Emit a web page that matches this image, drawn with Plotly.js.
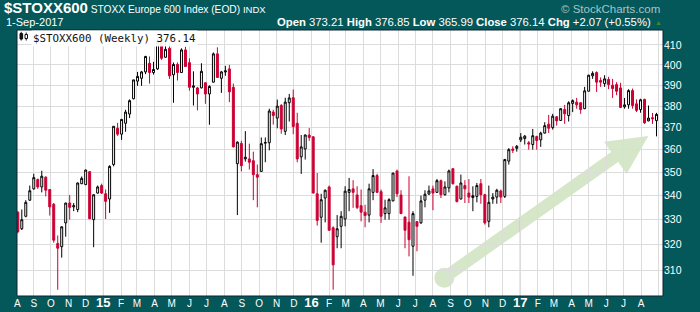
<!DOCTYPE html>
<html><head><meta charset="utf-8">
<script src="https://cdn.plot.ly/plotly-3.0.1.min.js"></script>
<style>html,body{margin:0;padding:0;background:#04585a;}#chart{width:700px;height:312px;}</style>
</head><body><div id="chart"></div>
<script>
const symbol = '$STOXX600';
const seriesName = 'STOXX Europe 600 Index (EOD)';
const lastDateLabel = '1-Sep-2017';

const weekDates = [
'2014-08-04','2014-08-11','2014-08-18','2014-08-25','2014-09-01','2014-09-08','2014-09-15','2014-09-22','2014-09-29','2014-10-06','2014-10-13','2014-10-20','2014-10-27','2014-11-03','2014-11-10','2014-11-17','2014-11-24','2014-12-01','2014-12-08','2014-12-15','2014-12-22','2014-12-29',
'2015-01-05','2015-01-12','2015-01-19','2015-01-26','2015-02-02','2015-02-09','2015-02-16','2015-02-23','2015-03-02','2015-03-09','2015-03-16','2015-03-23','2015-03-30','2015-04-06','2015-04-13','2015-04-20','2015-04-27','2015-05-04','2015-05-11','2015-05-18','2015-05-25','2015-06-01','2015-06-08','2015-06-15','2015-06-22','2015-06-29','2015-07-06','2015-07-13','2015-07-20','2015-07-27','2015-08-03','2015-08-10','2015-08-17','2015-08-24','2015-08-31','2015-09-07','2015-09-14','2015-09-21','2015-09-28','2015-10-05','2015-10-12','2015-10-19','2015-10-26','2015-11-02','2015-11-09','2015-11-16','2015-11-23','2015-11-30','2015-12-07','2015-12-14','2015-12-21','2015-12-28',
'2016-01-04','2016-01-11','2016-01-18','2016-01-25','2016-02-01','2016-02-08','2016-02-15','2016-02-22','2016-02-29','2016-03-07','2016-03-14','2016-03-21','2016-03-28','2016-04-04','2016-04-11','2016-04-18','2016-04-25','2016-05-02','2016-05-09','2016-05-16','2016-05-23','2016-05-30','2016-06-06','2016-06-13','2016-06-20','2016-06-27','2016-07-04','2016-07-11','2016-07-18','2016-07-25','2016-08-01','2016-08-08','2016-08-15','2016-08-22','2016-08-29','2016-09-05','2016-09-12','2016-09-19','2016-09-26','2016-10-03','2016-10-10','2016-10-17','2016-10-24','2016-10-31','2016-11-07','2016-11-14','2016-11-21','2016-11-28','2016-12-05','2016-12-12','2016-12-19','2016-12-26',
'2017-01-02','2017-01-09','2017-01-16','2017-01-23','2017-01-30','2017-02-06','2017-02-13','2017-02-20','2017-02-27','2017-03-06','2017-03-13','2017-03-20','2017-03-27','2017-04-03','2017-04-10','2017-04-17','2017-04-24','2017-05-01','2017-05-08','2017-05-15','2017-05-22','2017-05-29','2017-06-05','2017-06-12','2017-06-19','2017-06-26','2017-07-03','2017-07-10','2017-07-17','2017-07-24','2017-07-31','2017-08-07','2017-08-14','2017-08-21','2017-08-28'];

const openVals = [
333.1,326.3,331.4,338.1,342.9,346.9,343.7,347.9,342.6,336.4,
320.4,319.1,328.7,336.9,335.3,334.2,345.1,344.7,350.3,330.0,
341.1,344.3,340.8,338.6,353.4,369.7,367.0,372.0,376.3,383.5,
392.0,393.4,396.5,400.8,396.2,398.0,412.0,403.8,408.3,395.1,
400.2,396.2,407.5,401.1,389.0,388.7,388.7,391.2,385.8,391.5,
405.5,393.4,396.5,398.0,389.0,353.8,362.8,355.9,355.9,355.1,
349.0,350.4,362.9,363.1,377.2,374.4,380.3,368.3,381.6,384.0,
372.0,356.8,360.3,366.6,365.8,340.8,331.0,339.0,343.7,326.7,
323.1,327.3,330.3,341.4,342.9,340.3,335.8,333.1,331.9,341.4,
348.6,341.7,332.5,332.5,337.8,350.6,340.3,331.1,329.0,319.3,
329.2,328.7,338.1,340.7,342.9,341.4,346.4,340.4,343.3,351.6,
344.0,338.6,344.3,341.1,339.2,339.7,345.1,340.4,329.3,338.6,
339.4,342.0,339.7,354.9,360.3,360.6,364.4,365.0,363.1,362.3,
365.9,364.4,367.5,371.6,370.0,375.0,373.3,378.4,375.6,381.3,
381.9,381.6,378.8,387.1,394.6,396.2,392.3,390.8,392.8,390.0,
390.3,388.7,379.7,380.6,387.4,381.1,378.4,383.2,373.1,374.6,
373.21];

const highVals = [
333.5,334.2,338.1,344.3,349.4,347.3,350.7,348.3,342.8,336.9,
323.6,327.3,337.0,340.3,336.9,345.6,348.2,351.2,350.5,340.5,
344.3,345.1,342.6,353.1,370.6,372.2,374.0,378.3,383.2,392.6,
396.5,397.0,404.5,404.2,401.5,413.5,414.5,411.5,411.5,401.2,
401.2,408.3,409.2,403.3,396.8,389.2,400.8,391.3,390.0,406.2,
408.8,397.0,399.5,400.0,390.8,363.7,364.0,368.4,362.7,359.1,
353.4,365.5,365.5,378.8,378.3,383.1,381.0,384.0,385.8,387.9,
376.9,366.6,366.9,369.8,366.0,349.7,340.8,342.6,344.3,327.3,
331.9,333.5,344.0,347.6,346.6,344.0,342.6,336.2,345.1,351.4,
349.4,342.6,338.3,338.9,349.7,351.2,342.3,331.3,348.3,333.5,
329.3,340.0,342.3,344.3,344.3,347.1,346.9,346.1,351.2,351.7,
344.3,349.0,346.6,347.1,344.0,345.4,347.1,340.8,344.3,341.1,
342.9,342.6,355.9,360.7,361.5,362.1,367.5,366.6,363.9,369.4,
366.3,368.1,372.5,375.9,376.4,375.3,379.0,380.6,382.3,383.2,
383.9,381.7,389.2,395.1,396.8,396.8,393.8,394.9,394.1,393.1,
391.5,391.2,383.9,388.1,388.4,383.2,383.5,383.5,380.3,376.8,
376.85];

const lowVals = [
324.5,325.8,331.0,337.8,342.5,342.9,341.4,339.7,331.7,320.7,
302.5,314.8,323.1,330.0,333.5,333.1,344.9,344.5,330.2,318.9,
340.9,340.7,330.3,332.8,352.6,366.2,364.4,368.1,374.4,383.2,
389.7,389.7,395.4,390.8,395.2,397.5,402.5,403.5,393.1,381.6,
392.3,396.0,399.0,387.4,380.3,378.0,388.5,381.1,371.3,391.3,
393.6,386.3,394.6,381.9,361.0,331.9,350.4,354.7,351.2,338.1,
335.1,350.2,354.4,359.7,371.4,369.7,367.2,366.6,372.8,367.0,
354.4,349.3,355.6,364.0,341.0,327.6,320.7,328.9,325.5,302.5,
318.5,318.5,327.3,333.5,334.9,334.4,329.3,326.9,328.9,338.1,
341.1,328.7,330.0,330.0,337.6,339.4,332.3,318.5,315.3,307.8,
317.3,328.3,335.1,340.3,333.9,341.2,339.0,340.0,341.4,344.7,
337.2,338.4,336.9,336.9,333.5,337.2,336.6,328.0,326.9,336.6,
336.6,336.9,339.0,353.4,358.5,359.1,363.4,362.3,360.0,360.0,
360.0,361.25,367.3,367.5,369.1,370.9,373.1,371.7,372.8,377.2,
378.8,376.4,378.6,387.0,393.1,386.8,389.2,389.2,388.1,383.9,
385.2,379.1,378.8,378.8,378.8,377.2,376.9,371.7,372.9,371.7,
365.99];

const closeVals = [
325.1,330.0,337.2,342.1,347.7,343.7,348.3,342.3,335.3,321.7,
318.5,327.1,336.9,335.1,335.8,345.4,347.4,351.0,330.4,340.4,
343.7,341.1,337.6,352.6,370.6,367.0,373.8,377.2,382.6,392.6,
394.3,396.5,404.2,396.2,397.7,411.7,403.3,407.8,394.6,400.2,
396.2,407.5,399.2,389.0,389.7,385.8,396.8,385.8,389.4,405.5,
393.8,396.5,397.0,386.8,361.25,363.4,352.9,356.6,354.4,349.0,
347.9,362.7,363.2,377.7,375.6,380.0,369.4,381.9,383.9,370.5,
355.9,361.25,366.6,365.5,341.1,329.7,338.3,342.3,325.7,312.0,
326.3,331.4,341.9,342.6,341.4,335.0,333.1,331.7,342.9,348.6,
341.4,331.4,334.9,338.3,349.7,340.8,332.5,325.7,321.9,332.5,
327.3,337.8,340.6,342.0,341.1,346.4,340.4,343.7,350.6,345.1,
337.5,345.4,342.9,339.4,340.0,344.3,340.4,328.7,337.2,339.4,
342.3,339.4,355.6,360.0,359.7,361.5,365.6,366.1,362.5,366.3,
364.1,367.5,370.9,369.7,375.3,373.1,378.8,376.4,381.6,382.6,
380.6,378.4,387.3,394.9,395.8,391.5,391.5,393.1,390.3,388.4,
387.1,379.4,380.6,387.4,380.3,378.0,383.0,372.2,374.4,374.07,
376.14];

const monthTickDates = ['2014-08-03','2014-09-01','2014-10-01','2014-11-01','2014-12-01',
'2015-01-01','2015-02-01','2015-03-01','2015-04-01','2015-05-01','2015-06-01','2015-07-01','2015-08-01','2015-09-01','2015-10-01','2015-11-01','2015-12-01',
'2016-01-01','2016-02-01','2016-03-01','2016-04-01','2016-05-01','2016-06-01','2016-07-01','2016-08-01','2016-09-01','2016-10-01','2016-11-01','2016-12-01',
'2017-01-01','2017-02-01','2017-03-01','2017-04-01','2017-05-01','2017-06-01','2017-07-01','2017-08-01','2017-09-01'];
const monthTickLabels = ['A','S','O','N','D',
'15','F','M','A','M','J','J','A','S','O','N','D',
'16','F','M','A','M','J','J','A','S','O','N','D',
'17','F','M','A','M','J','J','A',''];
const yearLineDates = ['2015-01-01','2016-01-01','2017-01-01'];
const yTickValues = [310,320,330,340,350,360,370,380,390,400,410];

// ---- layout helpers (pixel -> paper) ----
const PL = 17, PR = 663, PT = 30, PB = 296;
const px = v => (v - PL) / (PR - PL);
const py = v => (PB - v) / (PB - PT);

const n = closeVals.length;
const lastO = openVals[n-1], lastH = highVals[n-1], lastL = lowVals[n-1], lastC = closeVals[n-1];
const chg = lastC - closeVals[n-2];
const chgPct = chg / closeVals[n-2] * 100;
const sgn = v => (v >= 0 ? '+' : '') + v.toFixed(2);

const ticktext = monthTickLabels.map(t => /^\d+$/.test(t) ? "<b><span style='font-size:13px'>" + t + "</span></b>" : t);

const SANS = "'Liberation Sans', Arial, sans-serif";
const ARROW = '#d5e7c8';

const trace = {
  type: 'candlestick',
  x: weekDates, open: openVals, high: highVals, low: lowVals, close: closeVals,
  increasing: {line: {color: '#000000', width: 1}, fillcolor: '#ffffff'},
  decreasing: {line: {color: '#cc0033', width: 1}, fillcolor: '#cc0033'},
  whiskerwidth: 0, showlegend: false, hoverinfo: 'x'
};

const shapes = [
  {type:'line', xref:'paper', yref:'paper', x0:px(444.3), y0:py(277.7), x1:px(616), y1:py(156), line:{color:ARROW, width:12}, layer:'below'},
  {type:'circle', xref:'paper', yref:'paper', x0:px(434.3), x1:px(454.3), y0:py(287.7), y1:py(267.7), fillcolor:ARROW, line:{width:0}, layer:'below'},
  {type:'path', xref:'paper', yref:'paper', path:'M'+px(604)+','+py(141.7)+' L'+px(648.3)+','+py(136)+' L'+px(626.7)+','+py(174)+' Z', fillcolor:ARROW, line:{width:0}, layer:'below'},
  {type:'rect', xref:'paper', yref:'paper', x0:0, x1:1, y0:0, y1:1, line:{color:'#0d2233', width:1}, fillcolor:'rgba(0,0,0,0)', layer:'above'},
  // legend icon
  {type:'line', xref:'paper', yref:'paper', x0:px(21.2), x1:px(21.2), y0:py(40.5), y1:py(31.8), line:{color:'#111', width:1}, layer:'above'},
  {type:'rect', xref:'paper', yref:'paper', x0:px(20), x1:px(22.6), y0:py(39), y1:py(33.5), fillcolor:'#111', line:{color:'#111', width:1}, layer:'above'},
  {type:'line', xref:'paper', yref:'paper', x0:px(26.2), x1:px(26.2), y0:py(40.5), y1:py(32.5), line:{color:'#111', width:1}, layer:'above'},
  {type:'rect', xref:'paper', yref:'paper', x0:px(25), x1:px(27.5), y0:py(38.5), y1:py(34.5), fillcolor:'#fff', line:{color:'#111', width:1}, layer:'above'}
];
yearLineDates.forEach(d => shapes.push({type:'line', xref:'x', yref:'paper', x0:d, x1:d, y0:0, y1:1, line:{color:'#b0b0b0', width:1}, layer:'between'}));

const annotations = [
  {xref:'paper', yref:'paper', x:px(31), y:1, xanchor:'left', yanchor:'top', showarrow:false,
   text: symbol + ' (Weekly) ' + lastC.toFixed(2), bgcolor:'rgba(255,255,255,0.92)', borderpad:1,
   font:{family:"'DejaVu Sans Mono', monospace", size:10.8, color:'#111'}},
  {xref:'paper', yref:'paper', x:px(4), y:py(21.5), xanchor:'left', yanchor:'middle', showarrow:false,
   text: lastDateLabel, font:{family:SANS, size:11, color:'#ffffff'}},
  {xref:'paper', yref:'paper', x:px(653), y:py(21.5), xanchor:'right', yanchor:'middle', showarrow:false,
   text: '<b>Open</b> ' + lastO.toFixed(2) + ' <b>High</b> ' + lastH.toFixed(2) + ' <b>Low</b> ' + lastL.toFixed(2) +
         ' <b>Close</b> ' + lastC.toFixed(2) + ' <b>Chg</b> ' + sgn(chg) + ' (' + sgn(chgPct) + '%)',
   font:{family:SANS, size:11.3, color:'#ffffff'}},
  {xref:'paper', yref:'paper', x:px(658.5), y:py(22), xanchor:'center', yanchor:'middle', showarrow:false,
   text:'▲', font:{family:SANS, size:7, color:'#3d8a2a'}},
  {xref:'paper', yref:'paper', x:px(662), y:py(9.5), xanchor:'right', yanchor:'middle', showarrow:false,
   text:'© StockCharts.com', font:{family:SANS, size:11.5, color:'#a9c3c3'}}
];

const layout = {
  width: 700, height: 312,
  margin: {l: PL, r: 700 - PR, t: PT, b: 312 - PB, pad: 0},
  paper_bgcolor: '#04585a', plot_bgcolor: '#ffffff',
  showlegend: false,
  title: {text: "<span style='font-size:15px'><b>" + symbol + "</b></span> " + seriesName + " <span style='font-size:9.5px'>INDX</span>",
          x: 4/700, xanchor: 'left', y: 1 - 9.5/312, yanchor: 'middle',
          font: {family: SANS, size: 10.2, color: '#ffffff'}},
  xaxis: {type: 'date', range: ['2014-08-02 14:00', '2017-09-08 10:00'],
          tickmode: 'array', tickvals: monthTickDates, ticktext: ticktext,
          showgrid: true, gridcolor: '#dcdcdc', gridwidth: 1, ticks: '', zeroline: false, showline: false,
          tickfont: {family: SANS, size: 10, color: '#ffffff'}, tickangle: 0,
          rangeslider: {visible: false}, fixedrange: true},
  yaxis: {type: 'log', range: [2.47734, 2.62087], side: 'right',
          tickmode: 'array', tickvals: yTickValues, ticktext: yTickValues.map(String),
          showgrid: true, gridcolor: '#dcdcdc', gridwidth: 1, ticks: '', zeroline: false, showline: false,
          tickfont: {family: SANS, size: 10.5, color: '#ffffff'}, fixedrange: true},
  shapes: shapes,
  annotations: annotations
};

Plotly.newPlot('chart', [trace], layout, {displayModeBar: false, staticPlot: true});
</script>
</body></html>
